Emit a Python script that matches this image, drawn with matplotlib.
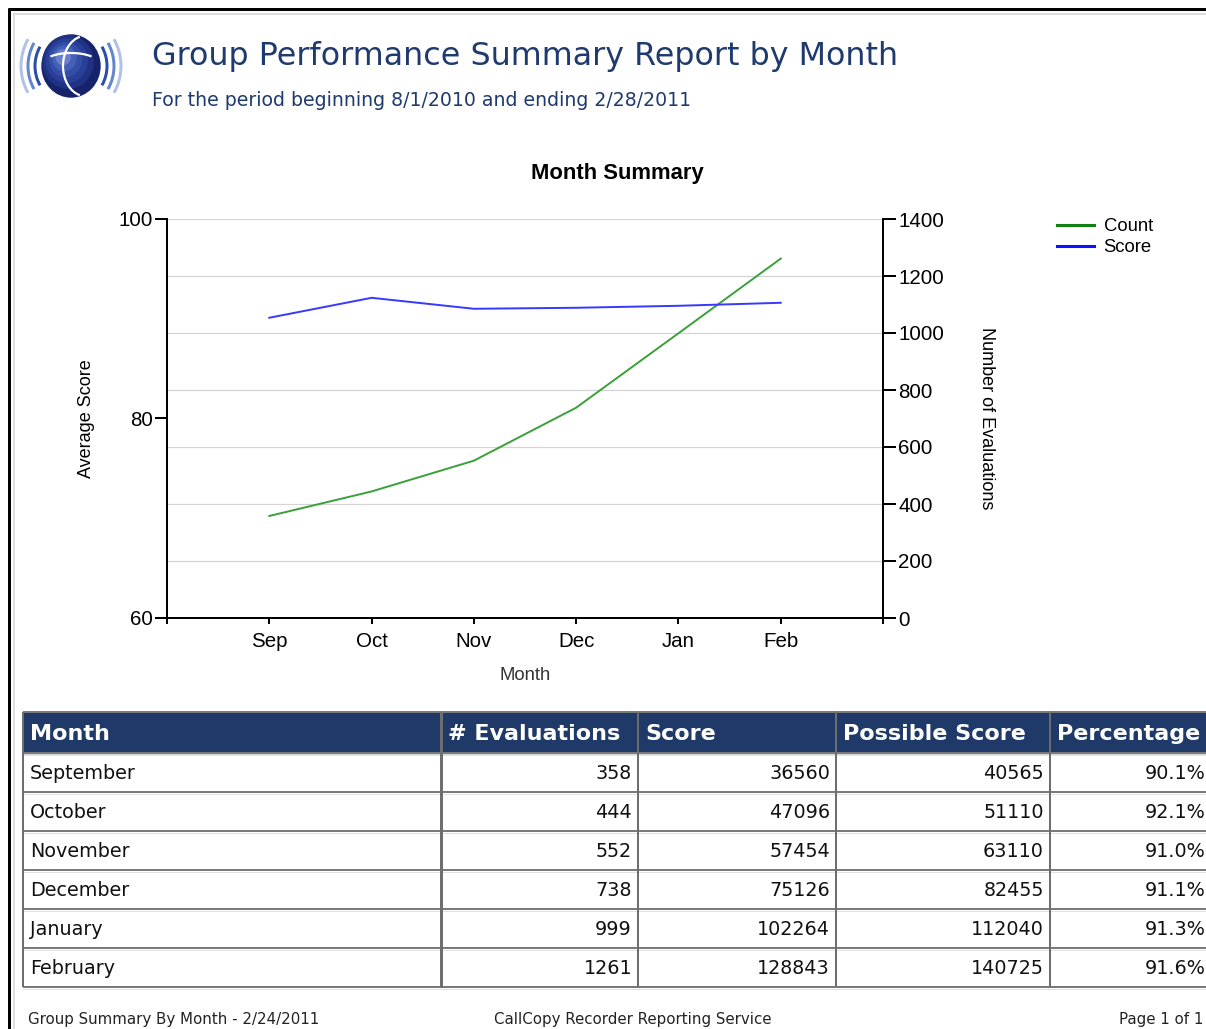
import matplotlib
matplotlib.use("Agg")
import matplotlib.pyplot as plt
from matplotlib.lines import Line2D
from matplotlib.patches import Rectangle, Ellipse, Arc

# ---------- data ----------
months = ["September", "October", "November", "December", "January", "February"]
month_abbr = ["Sep", "Oct", "Nov", "Dec", "Jan", "Feb"]
evaluations = [358, 444, 552, 738, 999, 1261]
scores = [36560, 47096, 57454, 75126, 102264, 128843]
possible = [40565, 51110, 63110, 82455, 112040, 140725]
percentage = [90.1, 92.1, 91.0, 91.1, 91.3, 91.6]

table_header = ["Month", "# Evaluations", "Score", "Possible Score", "Percentage"]

# ---------- style ----------
W, H = 1206, 1029
NAVY = "#1f3a6e"
HEADER_BG = "#1f3968"
GRID = "#d4d4d4"
CHART_FONT = "Liberation Sans"
PAGE_FONT = "DejaVu Sans"
PX = 0.72  # one pixel in points at dpi 100

fig = plt.figure(figsize=(W / 100, H / 100), dpi=100, facecolor="white")

# page overlay in pixel coordinates
page = fig.add_axes([0, 0, 1, 1])
page.set_xlim(0, W)
page.set_ylim(H, 0)
page.axis("off")

# page frame
page.plot([8, W], [9, 9], color="black", lw=3 * PX, solid_capstyle="butt")
page.plot([9, 9], [8, H], color="black", lw=3 * PX, solid_capstyle="butt")
page.plot([14, W], [14, 14], color="#dddddd", lw=2 * PX)
page.plot([14, 14], [14, H], color="#dddddd", lw=2 * PX)

# logo: globe with sound waves
cx, cy = 71, 66
page.add_patch(Ellipse((cx, cy), 58, 62, color="#16236b", zorder=3))
for k, c in enumerate(["#1f3284", "#293f98", "#344ea8", "#4460b8", "#6a80cc"]):
    r = 50 - k * 9
    page.add_patch(Ellipse((cx - 3 - k * 1.2, cy - 4 - k * 1.2), r, r * 1.05,
                           color=c, zorder=3 + k * 0.1))
page.add_patch(Arc((cx + 14, cy), 44, 60, theta1=100, theta2=260, color="white",
                   lw=1.6, zorder=4))
page.add_patch(Arc((cx, cy - 2), 56, 22, theta1=200, theta2=340, color="white",
                   lw=1.6, zorder=4))
for r, c, a in [(36, "#2a4fa8", 1.0), (43, "#3c68c0", 0.8), (50, "#7d9ad6", 0.6)]:
    for t1, t2 in [(148, 212), (-32, 32)]:
        page.add_patch(Arc((cx, cy), 2 * r, 2 * r * 1.05, theta1=t1, theta2=t2,
                           color=c, alpha=a, lw=3 * PX, zorder=2))

# titles
page.text(152, 56, "Group Performance Summary Report by Month", color=NAVY,
          fontsize=22.9, family=PAGE_FONT, va="center", ha="left")
page.text(152, 101, "For the period beginning 8/1/2010 and ending 2/28/2011",
          color=NAVY, fontsize=13.6, family=PAGE_FONT, va="center", ha="left")
page.text(617, 173, "Month Summary", fontsize=15.8, fontweight="bold",
          family=CHART_FONT, va="center", ha="center")

# ---------- chart ----------
x0, x1, y0, y1 = 167, 883, 219, 618
ax = fig.add_axes([x0 / W, 1 - y1 / H, (x1 - x0) / W, (y1 - y0) / H])
ax2 = ax.twinx()
ax.set_zorder(ax2.get_zorder() + 1)
ax.patch.set_visible(False)
ax2.patch.set_visible(False)

xs = list(range(1, len(month_abbr) + 1))
ax2.plot(xs, evaluations, color="#3aa03a", lw=1.5 * PX * 1.3, label="Count")
ax.plot(xs, percentage, color="#3838ff", lw=1.5 * PX * 1.3, label="Score")

ax.set_xlim(0, len(month_abbr) + 1)
ax.set_ylim(60, 100)
ax.set_yticks([60, 80, 100])
ax2.set_ylim(0, 1400)
ax2.set_yticks(range(0, 1401, 200))
ax2.grid(True, axis="y", color=GRID, lw=1.2 * PX)
ax2.set_axisbelow(True)

ax.set_xticks(range(0, len(month_abbr) + 2))
ax.set_xticklabels([""] + month_abbr + [""])

for a in (ax, ax2):
    a.spines["top"].set_visible(False)
    for s in ("left", "right", "bottom"):
        a.spines[s].set_linewidth(2 * PX)
ax.tick_params(axis="y", length=9, width=2 * PX, pad=1, labelsize=14.8)
ax2.tick_params(axis="y", length=9, width=2 * PX, pad=2, labelsize=14.8)
ax.tick_params(axis="x", length=4, width=2 * PX, pad=6, labelsize=14.8)
for lab in ax.get_xticklabels() + ax.get_yticklabels() + ax2.get_yticklabels():
    lab.set_family(CHART_FONT)

ax.text((86 - x0) / (x1 - x0), 0.5, "Average Score", transform=ax.transAxes,
        rotation=90, ha="center", va="center", fontsize=13, family=CHART_FONT)
ax.text((987 - x0) / (x1 - x0), 0.5, "Number of Evaluations", transform=ax.transAxes,
        rotation=270, ha="center", va="center", fontsize=13, family=CHART_FONT)
ax.text(0.5, (y1 - 675) / (y1 - y0), "Month", transform=ax.transAxes,
        ha="center", va="center", fontsize=13.3, family=CHART_FONT, color="#333333")

handles = [Line2D([], [], color="#108010", lw=2.2),
           Line2D([], [], color="#1010ff", lw=2.2)]
fig.legend(handles, ["Count", "Score"], loc="upper left",
           bbox_to_anchor=(1050 / W, 1 - 211 / H), frameon=False,
           prop={"family": CHART_FONT, "size": 13.3}, handlelength=2.0,
           handletextpad=0.5, labelspacing=0.2, borderaxespad=0)

# ---------- table ----------
col_edges = [23, 441, 638, 836, 1050, 1212]
header_top, header_bot = 712, 753
row_h = 39
n_rows = len(months)
tbl_bot = header_bot + n_rows * row_h

page.add_patch(Rectangle((col_edges[0], header_top), col_edges[-1] - col_edges[0],
                         header_bot - header_top, color=HEADER_BG, zorder=1))
for i, name in enumerate(table_header):
    page.text(col_edges[i] + 7, (header_top + header_bot) / 2 + 1, name, color="white",
              fontsize=16, fontweight="bold", family=PAGE_FONT,
              ha="left", va="center", zorder=3)

rows = []
for i in range(n_rows):
    rows.append([months[i], f"{evaluations[i]}", f"{scores[i]}",
                 f"{possible[i]}", f"{percentage[i]:.1f}%"])
for r, row in enumerate(rows):
    yc = header_bot + r * row_h + row_h / 2 + 1
    for c, val in enumerate(row):
        if c == 0:
            page.text(col_edges[0] + 7, yc, val, fontsize=13.8, family=PAGE_FONT,
                      ha="left", va="center", color="#111111")
        else:
            page.text(col_edges[c + 1] - 6, yc, val, fontsize=13.8, family=PAGE_FONT,
                      ha="right", va="center", color="#111111")

# grid lines of the table
line_kw = dict(color="#7a7a7a", lw=2 * PX, solid_capstyle="butt", zorder=2)
for r in range(n_rows + 1):
    yy = header_bot + r * row_h
    page.plot([col_edges[0], col_edges[-1]], [yy, yy], **line_kw)
    page.plot([col_edges[0], col_edges[-1]], [yy + 2, yy + 2], color="#e2e2e2",
              lw=1 * PX, zorder=2)
page.plot([col_edges[0], col_edges[-1]], [header_top, header_top], **line_kw)
for c, xx in enumerate(col_edges[:-1]):
    lw = 3 * PX if c == 1 else 2 * PX
    page.plot([xx, xx], [header_top, tbl_bot], color="#6e6e6e", lw=lw,
              solid_capstyle="butt", zorder=2)

# ---------- footer ----------
foot_kw = dict(fontsize=10.8, family=PAGE_FONT, va="bottom", ha="left", color="#222222")
page.text(28, 1027, "Group Summary By Month - 2/24/2011", **foot_kw)
page.text(494, 1027, "CallCopy Recorder Reporting Service", **foot_kw)
page.text(1203, 1027, "Page 1 of 1", **dict(foot_kw, ha="right"))

fig.savefig("out.png", dpi=100, facecolor="white")
